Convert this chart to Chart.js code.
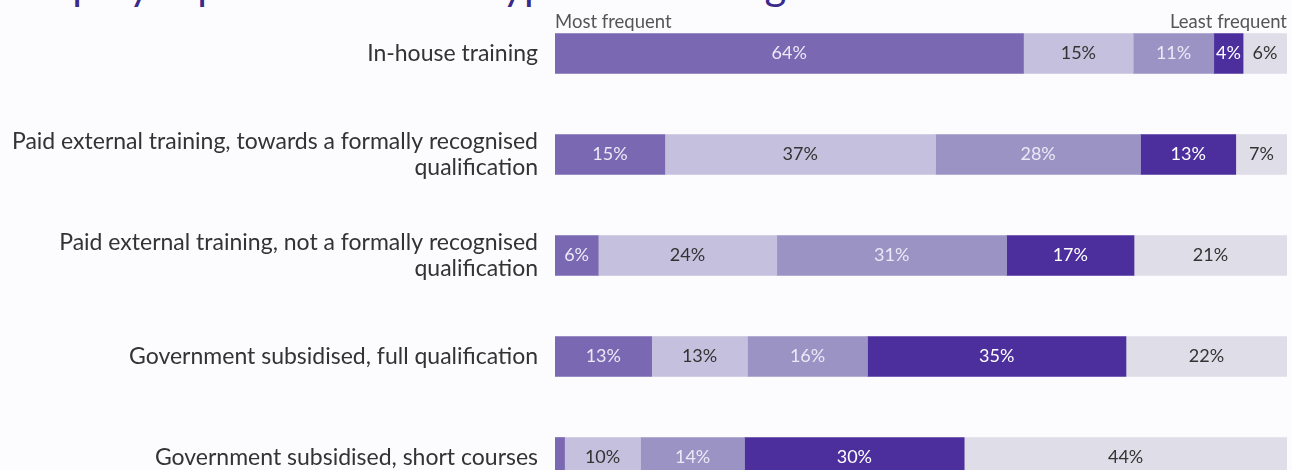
<!DOCTYPE html>
<html>
<head>
<meta charset="utf-8">
<script src="https://cdn.jsdelivr.net/npm/chart.js@4/dist/chart.umd.min.js"></script>
<style>
  body { margin: 0; background: #fcfcfe; overflow: hidden; }
  #wrap { position: relative; width: 1292px; height: 470px; overflow: hidden; }
  #title { position: absolute; left: 14px; top: -41px; font: 42px Lato, sans-serif; line-height: 50px; color: #3a2a8c; white-space: nowrap; }
  canvas { position: absolute; left: 0; top: 0; }
</style>
</head>
<body>
<div id="wrap">
  <div id="title">Employer preferences for types of training</div>
  <canvas id="myChart" width="1292" height="510"></canvas>
</div>
<script>
const categories = [
  'In-house training',
  ['Paid external training, towards a formally recognised', 'qualification'],
  ['Paid external training, not a formally recognised', 'qualification'],
  'Government subsidised, full qualification',
  'Government subsidised, short courses'
];

// rank 1 (most frequent) .. rank 5 (least frequent), percent of employers
// (labels are rounded; bar lengths)
const rank1 = [64, 15, 5.9, 13.2, 1.3];
const rank2 = [15, 37, 24.4, 13.1, 10.4];
const rank3 = [11, 28, 31.4, 16.4, 14.2];
const rank4 = [4, 13, 17.4, 35.3, 30];
const rank5 = [6, 7, 20.9, 22, 44.1];

const colors = ['#7a68b2', '#c5c0dd', '#9c93c5', '#4c2f9c', '#dfdee8'];
const labelColors = ['#ece9f6', '#333333', '#ece9f6', '#ffffff', '#333333'];

const segmentLabels = {
  id: 'segmentLabels',
  afterDatasetsDraw(chart) {
    const ctx = chart.ctx;
    ctx.save();
    ctx.font = '18px Lato, sans-serif';
    ctx.textAlign = 'center';
    ctx.textBaseline = 'middle';
    chart.data.datasets.forEach((ds, i) => {
      chart.getDatasetMeta(i).data.forEach((bar, j) => {
        const v = ds.data[j];
        if (v < 3) return;
        const left = Math.min(bar.x, bar.base);
        const right = Math.max(bar.x, bar.base);
        ctx.fillStyle = labelColors[i];
        ctx.fillText(Math.round(v) + '%', (left + right) / 2, bar.y);
      });
    });
    // end labels above the bars
    const x = chart.scales.x;
    ctx.font = '18.5px Lato, sans-serif';
    ctx.fillStyle = '#555';
    ctx.textBaseline = 'alphabetic';
    ctx.textAlign = 'left';
    ctx.fillText('Most frequent', x.getPixelForValue(0), 28);
    ctx.textAlign = 'right';
    ctx.fillText('Least frequent', x.getPixelForValue(100), 28);
    ctx.restore();
  }
};

const context = document.getElementById('myChart').getContext('2d');

const chart = new Chart(context, {
  type: 'bar',
  data: {
    labels: categories,
    datasets: [rank1, rank2, rank3, rank4, rank5].map((d, i) => ({
      label: 'Rank ' + (i + 1),
      data: d,
      backgroundColor: colors[i],
      borderWidth: 0,
      barThickness: 40,
    })),
  },
  options: {
    indexAxis: 'y',
    responsive: false,
    animation: false,
    layout: { padding: { top: 3, right: 5, bottom: 2, left: 0 } },
    plugins: {
      legend: { display: false },
      tooltip: { enabled: false },
    },
    scales: {
      x: {
        stacked: true,
        min: 0,
        max: 100,
        display: false,
      },
      y: {
        stacked: true,
        grid: { display: false, drawTicks: false },
        border: { display: false },
        afterFit(scale) {
          scale.width = 555;
          scale.paddingTop = 0;
          scale.paddingBottom = 0;
        },
        ticks: {
          padding: 17,
          color: '#333',
          font: { family: 'Lato, sans-serif', size: 23, lineHeight: 1.13 },
        },
      },
    },
  },
  plugins: [segmentLabels],
});
</script>
</body>
</html>
